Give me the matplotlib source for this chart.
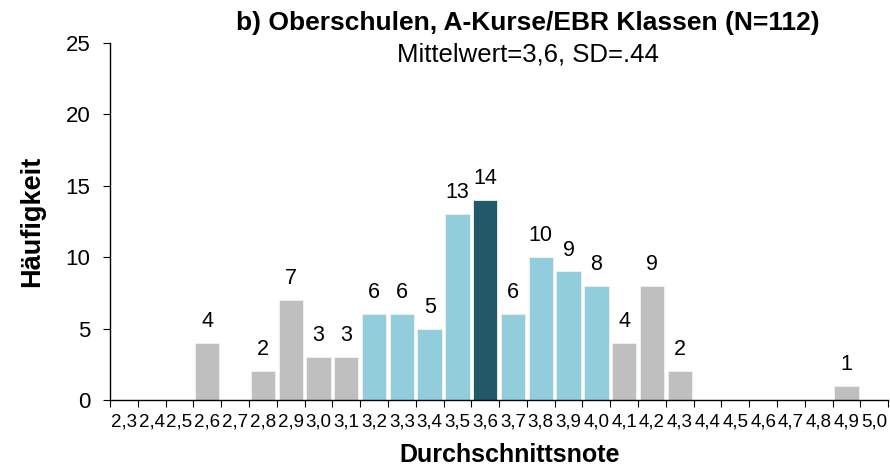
import matplotlib
matplotlib.use("Agg")
from matplotlib import pyplot as plt

# * Categories (Durchschnittsnote) and counts
noten = ['2,3', '2,4', '2,5', '2,6', '2,7', '2,8', '2,9', '3,0', '3,1', '3,2',
         '3,3', '3,4', '3,5', '3,6', '3,7', '3,8', '3,9', '4,0', '4,1', '4,2',
         '4,3', '4,4', '4,5', '4,6', '4,7', '4,8', '4,9', '5,0']
haeufigkeit = [0, 0, 0, 4, 0, 2, 7, 3, 3, 6,
               6, 5, 13, 14, 6, 10, 9, 8, 4, 8,
               2, 0, 0, 0, 0, 0, 1, 0]
# * Labels as printed in the original (4,2 says 9 although the bar is 8)
beschriftung = ['', '', '', '4', '', '2', '7', '3', '3', '6',
                '6', '5', '13', '14', '6', '10', '9', '8', '4', '9',
                '2', '', '', '', '', '', '1', '']
# * Band: g = grey, b = light blue (within 1 SD), m = mean
gruppe = ['g'] * 9 + ['b'] * 4 + ['m'] + ['b'] * 4 + ['g'] * 10

farben = {'g': '#BFBFBF', 'b': '#92CDDC', 'm': '#215968'}

plt.rcParams['font.family'] = ['Liberation Sans', 'DejaVu Sans']

fig = plt.figure(figsize=(8.9, 4.73), dpi=100)
ax = fig.add_axes([0.1236, 0.1543, 0.8744, 0.7548])

pos = list(range(len(noten)))
ax.bar(pos, haeufigkeit, width=0.875,
       color=[farben[g] for g in gruppe],
       edgecolor='#F2F2F2', linewidth=0.6)

for p, h, txt in zip(pos, haeufigkeit, beschriftung):
    if txt:
        ax.annotate(txt, (p, h), xytext=(0, 11.5), textcoords='offset points',
                    ha='center', va='baseline', fontsize=15.5)

ax.set_xlim(-0.5, len(noten) - 0.5)
ax.set_ylim(0, 25)
ax.set_yticks([0, 5, 10, 15, 20, 25])
ax.tick_params(axis='y', labelsize=16, length=5, width=0.8, pad=9)

# * Category labels centred, tick marks on the boundaries (Excel style)
ax.set_xticks(pos)
ax.set_xticklabels(noten, fontsize=13.5)
ax.tick_params(axis='x', length=0, pad=10)
ax.set_xticks([p - 0.5 for p in pos] + [len(noten) - 0.5], minor=True)
ax.tick_params(axis='x', which='minor', length=5, width=0.8)

for side in ['top', 'right']:
    ax.spines[side].set_visible(False)
for side in ['left', 'bottom']:
    ax.spines[side].set_linewidth(1.0)

ax.set_ylabel('Häufigkeit', fontsize=19.5, fontweight='bold')
ax.yaxis.label.set(ha='center', va='center')
ax.yaxis.set_label_coords(-0.1003, 0.5)
ax.set_xlabel('Durchschnittsnote', fontsize=18, fontweight='bold')
ax.xaxis.label.set(ha='center', va='center')
ax.xaxis.set_label_coords(0.513, -0.154)

fig.text(0.593, 0.951, 'b) Oberschulen, A-Kurse/EBR Klassen (N=112)',
         ha='center', va='center', fontsize=19, fontweight='bold')
fig.text(0.593, 0.884, 'Mittelwert=3,6, SD=.44',
         ha='center', va='center', fontsize=18.5)

fig.savefig('out.png', dpi=100)
